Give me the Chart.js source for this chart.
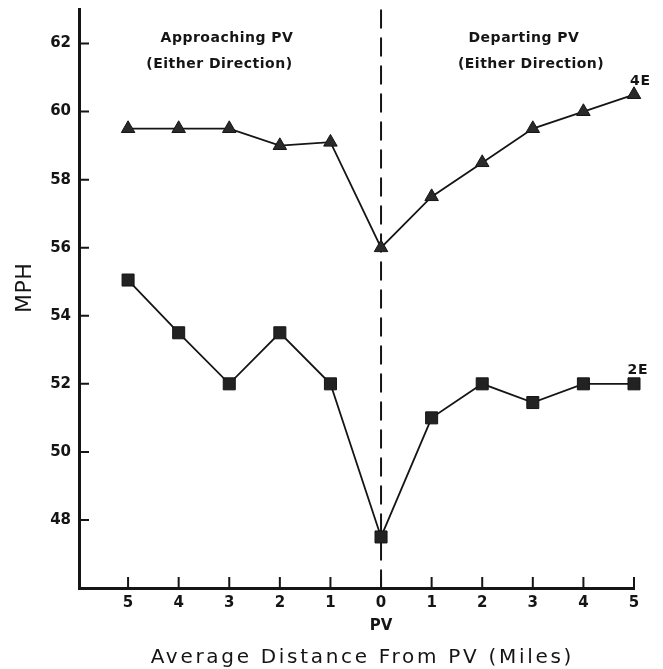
<!DOCTYPE html>
<html><head><meta charset="utf-8">
<script src="https://cdn.jsdelivr.net/npm/chart.js@4.4.0/dist/chart.umd.min.js"></script>
<style>html,body{margin:0;padding:0;background:#fff;overflow:hidden}</style>
</head><body>
<canvas id="c" width="663" height="669" style="display:block;width:663px;height:669px"></canvas>
<script>
// ---- data ----
const xPositions = [0,1,2,3,4,5,6,7,8,9,10];
const xTickLabels = ['5','4','3','2','1',['0','PV'],'1','2','3','4','5'];
const yTickValues = [48,50,52,54,56,58,60,62];
const series4E = [59.5,59.5,59.5,59.0,59.1,56.0,57.5,58.5,59.5,60.0,60.5];
const series2E = [55.05,53.5,52.0,53.5,52.0,47.5,51.0,52.0,51.45,52.0,52.0];
const seriesNames = ['4E','2E'];
const pvPosition = 5;
const yTitle = 'MPH';
const xTitle = 'Average Distance From PV (Miles)';
const leftNote = ['Approaching PV','(Either Direction)'];
const rightNote = ['Departing PV','(Either Direction)'];

const INK = '#151515';
const toPts = arr => arr.map((v,i)=>({x:xPositions[i], y:v}));

const decor = {
  id:'decor',
  beforeDatasetsDraw(chart){
    const {ctx, chartArea:a, scales:{x}} = chart;
    const px = x.getPixelForValue(pvPosition);
    ctx.save();
    ctx.strokeStyle = INK; ctx.lineWidth = 2; ctx.setLineDash([19,9]);
    ctx.beginPath(); ctx.moveTo(px, a.top); ctx.lineTo(px, a.bottom); ctx.stroke();
    ctx.restore();
  },
  afterDraw(chart){
    const {ctx, chartArea:a, scales:{x,y}} = chart;
    ctx.save();
    ctx.strokeStyle = INK; ctx.lineWidth = 2;
    ctx.beginPath();
    yTickValues.forEach(v=>{ const py = y.getPixelForValue(v); ctx.moveTo(a.left, py); ctx.lineTo(a.left+10, py); });
    xPositions.forEach(v=>{ const px = x.getPixelForValue(v); ctx.moveTo(px, a.bottom); ctx.lineTo(px, a.bottom-11); });
    ctx.stroke();
    ctx.fillStyle = INK;
    ctx.textAlign = 'center'; ctx.textBaseline = 'alphabetic';
    const txt = (s, cx, by, font, ls) => {
      ctx.font = font; ctx.letterSpacing = (ls||0)+'px';
      ctx.fillText(s, cx + (ls||0)/2, by);
    };
    const bf = 'bold 14px "DejaVu Sans"';
    txt(leftNote[0], x.getPixelForValue(1.95), 42, bf, 0.5);
    txt(leftNote[1], x.getPixelForValue(1.8), 68, bf, 0.5);
    txt(rightNote[0], x.getPixelForValue(7.82), 42, bf, 0.5);
    txt(rightNote[1], x.getPixelForValue(7.96), 68, bf, 0.5);
    txt(seriesNames[0], x.getPixelForValue(10.12), 85, 'bold 14px "DejaVu Sans"', 0.8);
    txt(seriesNames[1], x.getPixelForValue(10.07), 374, 'bold 14px "DejaVu Sans"', 0.8);
    // axis titles
    txt(xTitle, 361, 663, '20px "DejaVu Sans"', 2.7);
    ctx.save();
    ctx.translate(31, 288); ctx.rotate(-Math.PI/2);
    txt(yTitle, 0, 0, '22px "DejaVu Sans"', 0.5);
    ctx.restore();
    ctx.restore();
  }
};

new Chart(document.getElementById('c'), {
  type:'line',
  data:{
    datasets:[
      {label:seriesNames[0], data:toPts(series4E), borderColor:INK, borderWidth:1.8,
       pointStyle:'triangle', pointRadius:7.8, pointBackgroundColor:'#2a2a2a', pointBorderColor:INK, pointBorderWidth:1, clip:false},
      {label:seriesNames[1], data:toPts(series2E), borderColor:INK, borderWidth:1.8,
       pointStyle:'rect', pointRadius:8.5, pointBackgroundColor:'#222', pointBorderColor:INK, pointBorderWidth:1, clip:false}
    ]
  },
  options:{
    responsive:false, animation:false, devicePixelRatio:1,
    layout:{padding:{top:8, right:29, left:0, bottom:0}},
    plugins:{legend:{display:false}, tooltip:{enabled:false}},
    scales:{
      x:{type:'linear', min:-0.97, max:10,
        afterBuildTicks:s=>{ s.ticks = xPositions.map(v=>({value:v})); },
        afterFit:s=>{ s.height = 81; s.paddingLeft = 0; s.paddingRight = 0; },
        grid:{display:true, drawOnChartArea:false, drawTicks:false},
        border:{display:true, width:3, color:INK},
        ticks:{autoSkip:false, maxRotation:0, padding:3, color:INK,
          font:{family:'DejaVu Sans', size:15, weight:'bold', lineHeight:'23.5px'},
          callback:(v)=>{ const i = xPositions.indexOf(v); return i>=0 ? xTickLabels[i] : ''; }}
      },
      y:{type:'linear', min:46, max:63,
        afterBuildTicks:s=>{ s.ticks = yTickValues.map(v=>({value:v})); },
        afterFit:s=>{ s.width = 79; s.paddingTop = 0; s.paddingBottom = 0; },
        grid:{display:true, drawOnChartArea:false, drawTicks:false},
        border:{display:true, width:3, color:INK},
        ticks:{padding:8, color:INK, font:{family:'DejaVu Sans', size:15, weight:'bold'}}
      }
    }
  },
  plugins:[decor]
});
</script>
</body></html>
